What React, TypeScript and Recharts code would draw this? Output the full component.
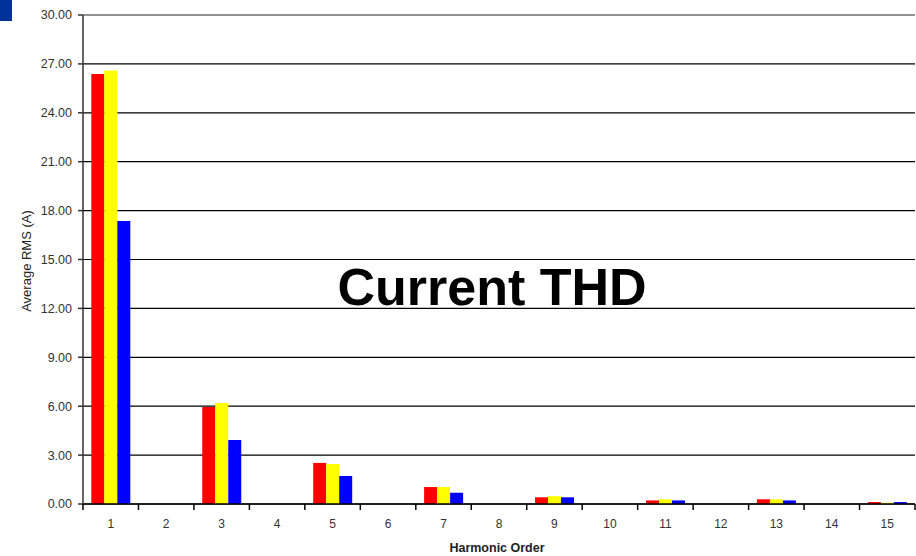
import React from 'react';
import { BarChart, Bar, XAxis, YAxis, CartesianGrid, ReferenceLine } from 'recharts';

const harmonics = ['1', '2', '3', '4', '5', '6', '7', '8', '9', '10', '11', '12', '13', '14', '15'];
const phaseA = [26.38, 0, 5.95, 0, 2.52, 0, 1.04, 0, 0.41, 0, 0.22, 0, 0.29, 0, 0.12];
const phaseB = [26.6, 0, 6.2, 0, 2.45, 0, 1.04, 0, 0.48, 0, 0.29, 0, 0.29, 0, 0.08];
const phaseC = [17.36, 0, 3.93, 0, 1.72, 0, 0.69, 0, 0.41, 0, 0.22, 0, 0.22, 0, 0.12];
const yTicks = [0, 3, 6, 9, 12, 15, 18, 21, 24, 27, 30];

const data = harmonics.map((h, i) => ({ h, a: phaseA[i], b: phaseB[i], c: phaseC[i] }));

const FONT = '"Liberation Sans", Arial, sans-serif';

// category label plus tick marks on the band edges (Excel style)
const HarmonicTick = (props: any) => {
  const { x, y, payload, index, visibleTicksCount } = props;
  const half = payload && payload.offset ? payload.offset : 27.7;
  const axisY = y - 15;
  return (
    <g>
      <line x1={x - half} x2={x - half} y1={axisY} y2={axisY + 6} stroke="#000" strokeWidth={1.5} />
      {index === visibleTicksCount - 1 && (
        <line x1={x + half} x2={x + half} y1={axisY} y2={axisY + 6} stroke="#000" strokeWidth={1.5} />
      )}
      <text x={x} y={y} dy="0.71em" textAnchor="middle" fill="#333" fontSize={12} fontFamily={FONT}>
        {payload.value}
      </text>
    </g>
  );
};

export default function App() {
  return (
    <div style={{ position: 'absolute', left: 0, top: 0, width: 916, height: 556, background: '#fff', fontFamily: FONT }}>
      <BarChart
        width={916}
        height={556}
        data={data}
        margin={{ top: 15, right: 1, left: 0, bottom: 22 }}
        barCategoryGap="15%"
        barGap={0}
      >
        <CartesianGrid vertical={false} stroke="#000" strokeWidth={1.2} />
        <XAxis
          dataKey="h"
          height={30}
          tickLine={false}
          tickSize={6}
          tickMargin={9}
          axisLine={{ stroke: '#000', strokeWidth: 1.5 }}
          tick={<HarmonicTick />}
          interval={0}
        />
        <YAxis
          width={83}
          domain={[0, 30]}
          ticks={yTicks}
          tickFormatter={(v: number) => v.toFixed(2)}
          tickSize={5}
          tickMargin={6}
          axisLine={{ stroke: '#333', strokeWidth: 1.5 }}
          tickLine={{ stroke: '#333', strokeWidth: 1.5 }}
          tick={{ fill: '#333', fontSize: 12.5, fontFamily: FONT }}
        />
        <ReferenceLine y={30} stroke="#999" strokeWidth={1.5} />
        <Bar dataKey="a" fill="#ff0000" isAnimationActive={false} />
        <Bar dataKey="b" fill="#ffff00" isAnimationActive={false} />
        <Bar dataKey="c" fill="#0000ff" isAnimationActive={false} />
      </BarChart>
      <svg width={916} height={556} style={{ position: 'absolute', left: 0, top: 0, pointerEvents: 'none' }}>
        <rect x={0} y={0} width={12} height={21} fill="#003399" />
        <text x={492} y={305} textAnchor="middle" fontFamily={FONT} fontWeight="bold" fontSize={52} fill="#000">
          Current THD
        </text>
        <text
          x={0}
          y={0}
          transform="translate(31 261) rotate(-90)"
          textAnchor="middle"
          fontFamily={FONT}
          fontSize={13}
          fill="#222"
        >
          Average RMS (A)
        </text>
        <text x={497} y={552} textAnchor="middle" fontFamily={FONT} fontWeight="bold" fontSize={12.5} fill="#222">
          Harmonic Order
        </text>
      </svg>
    </div>
  );
}
